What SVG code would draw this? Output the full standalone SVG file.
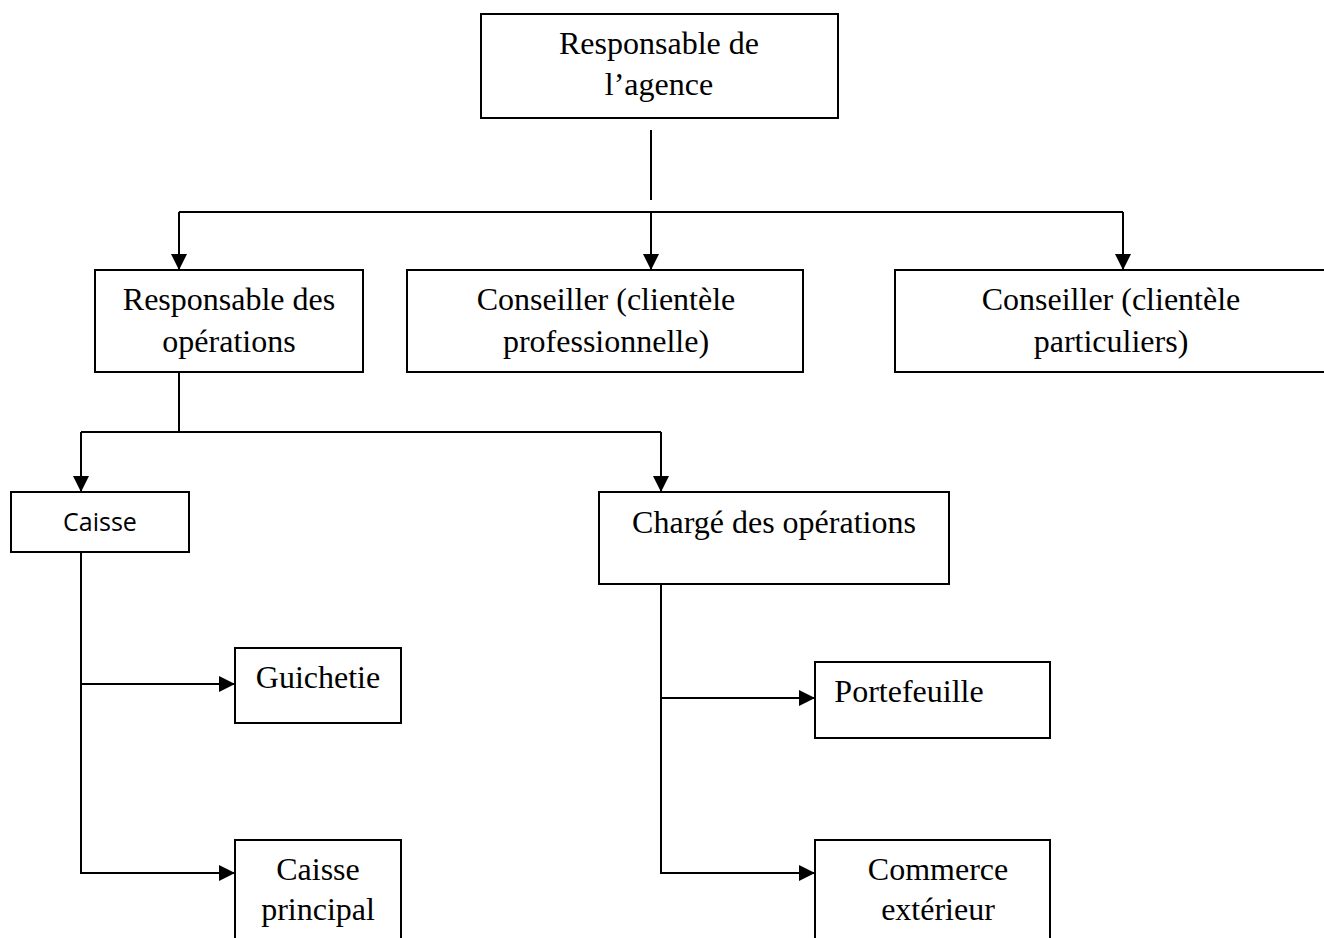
<svg xmlns="http://www.w3.org/2000/svg" width="1324" height="938" viewBox="0 0 1324 938">
<defs>
<marker id="ah" markerUnits="userSpaceOnUse" markerWidth="16" markerHeight="16" viewBox="0 0 16 16" refX="16" refY="8" orient="auto">
<path d="M0,0 L16,8 L0,16 Z" fill="#000"/>
</marker>
<style>
.box{fill:#fff;stroke:#000;stroke-width:2}
.t{font-family:"Liberation Serif","Times New Roman",serif;font-size:32px;fill:#000;text-anchor:middle}
.s{font-family:"Open Sans","Liberation Sans",sans-serif;font-size:25px;fill:#000;text-anchor:middle}
.c{fill:none;stroke:#000;stroke-width:2}
.a{fill:none;stroke:#000;stroke-width:2;marker-end:url(#ah)}
</style>
</defs>
<rect width="1324" height="938" fill="#fff"/>
<g id="connectors">
<path class="c" d="M651 130 V200"/>
<path class="c" d="M179 212 H1123"/>
<path class="a" d="M179 212 V270"/>
<path class="a" d="M651 212 V270"/>
<path class="a" d="M1123 212 V270"/>
<path class="c" d="M179 372 V432"/>
<path class="c" d="M81 432 H661"/>
<path class="a" d="M81 432 V492"/>
<path class="a" d="M661 432 V492"/>
<path class="c" d="M81 552 V874"/>
<path class="a" d="M81 684 H235"/>
<path class="a" d="M81 873 H235"/>
<path class="c" d="M661 584 V874"/>
<path class="a" d="M661 698 H815"/>
<path class="a" d="M661 873 H815"/>
</g>
<g id="n-agence">
<rect class="box" x="481" y="14" width="357" height="104"/>
<text class="t" x="659" y="54">Responsable de</text>
<text class="t" x="659" y="95">l’agence</text>
</g>
<g id="n-resp-ops">
<rect class="box" x="95" y="270" width="268" height="102"/>
<text class="t" x="229" y="310">Responsable des</text>
<text class="t" x="229" y="352">opérations</text>
</g>
<g id="n-cons-pro">
<rect class="box" x="407" y="270" width="396" height="102"/>
<text class="t" x="606" y="310">Conseiller (clientèle</text>
<text class="t" x="606" y="352">professionnelle)</text>
</g>
<g id="n-cons-part">
<rect class="box" x="895" y="270" width="440" height="102"/>
<text class="t" x="1111" y="310">Conseiller (clientèle</text>
<text class="t" x="1111" y="352">particuliers)</text>
</g>
<g id="n-caisse">
<rect class="box" x="11" y="492" width="178" height="60"/>
<text class="s" x="100" y="531">Caisse</text>
</g>
<g id="n-charge">
<rect class="box" x="599" y="492" width="350" height="92"/>
<text class="t" x="774" y="533">Chargé des opérations</text>
</g>
<g id="n-guichetie">
<rect class="box" x="235" y="648" width="166" height="75"/>
<text class="t" x="318" y="688">Guichetie</text>
</g>
<g id="n-portefeuille">
<rect class="box" x="815" y="662" width="235" height="76"/>
<text class="t" x="909" y="702">Portefeuille</text>
</g>
<g id="n-caisse-principal">
<rect class="box" x="235" y="840" width="166" height="120"/>
<text class="t" x="318" y="880">Caisse</text>
<text class="t" x="318" y="920">principal</text>
</g>
<g id="n-commerce">
<rect class="box" x="815" y="840" width="235" height="120"/>
<text class="t" x="938" y="880">Commerce</text>
<text class="t" x="938" y="920">extérieur</text>
</g>
</svg>
